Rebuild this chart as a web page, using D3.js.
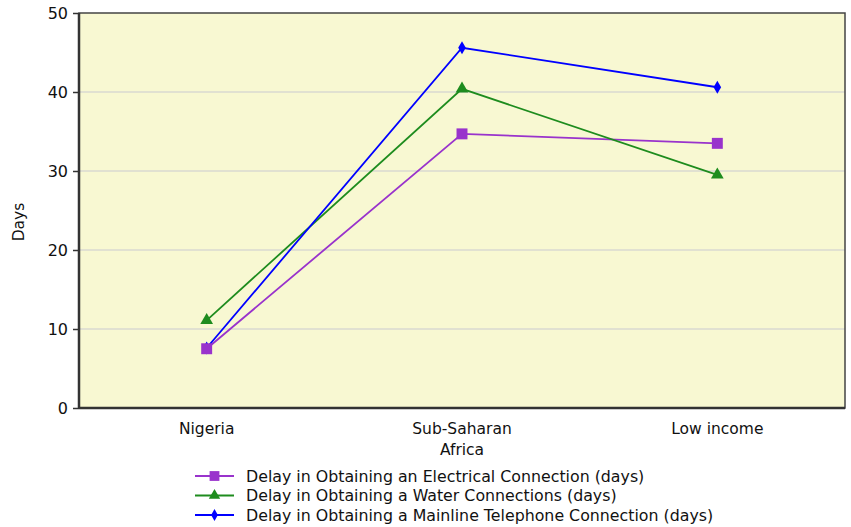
<!DOCTYPE html>
<html><head><meta charset="utf-8">
<script src="https://cdn.jsdelivr.net/npm/d3@7"></script>
<style>body{margin:0;background:#fff}svg{display:block}text{font-family:"DejaVu Sans",Tahoma,sans-serif;}</style>
</head><body><svg id="c" width="851" height="527"></svg>
<script>
const categories = [["Nigeria"], ["Sub-Saharan", "Africa"], ["Low income"]];
const categoryKeys = ["Nigeria", "Sub-Saharan Africa", "Low income"];
const seriesNames = [
  "Delay in Obtaining an Electrical Connection (days)",
  "Delay in Obtaining a Water Connections (days)",
  "Delay in Obtaining a Mainline Telephone Connection (days)"
];
const electrical = [7.5, 34.7, 33.5];
const water = [11.1, 40.4, 29.5];
const telephone = [7.6, 45.6, 40.6];
const yTicks = [0, 10, 20, 30, 40, 50];
const colors = ["#9933CC", "#1E8C1E", "#0000FF"];
const symbols = [d3.symbolSquare, d3.symbolTriangle, d3.symbolDiamond];
const seriesData = [electrical, water, telephone];

const svg = d3.select("#c");
const L = 79, R = 845, T = 13, B = 408;
const FS = 15.5;
const x = d3.scaleBand().domain(categoryKeys).range([L, R]);
const y = d3.scaleLinear().domain([0, 50]).range([B, T]);

svg.append("rect").attr("x", L).attr("y", T).attr("width", R - L).attr("height", B - T).attr("fill", "#F8F8D2");
svg.append("g").selectAll("line").data(yTicks.filter(t => t > 0 && t < 50)).join("line")
  .attr("x1", L).attr("x2", R).attr("y1", d => y(d)).attr("y2", d => y(d))
  .attr("stroke", "#DADAD0").attr("stroke-width", 1.5);
svg.append("rect").attr("x", L).attr("y", T).attr("width", R - L).attr("height", B - T)
  .attr("fill", "none").attr("stroke", "#444").attr("stroke-width", 1.5);
svg.append("line").attr("x1", L).attr("x2", L).attr("y1", T).attr("y2", B).attr("stroke", "#333").attr("stroke-width", 2.5);
svg.append("line").attr("x1", L).attr("x2", R).attr("y1", B).attr("y2", B).attr("stroke", "#333").attr("stroke-width", 2.5);

const yAxis = svg.append("g").attr("transform", `translate(${L},0)`)
  .call(d3.axisLeft(y).tickValues(yTicks).tickSize(6).tickPadding(5));
yAxis.select(".domain").remove();
yAxis.selectAll("line").attr("stroke", "#333").attr("stroke-width", 1.5);
yAxis.selectAll("text").attr("font-size", FS + 0.5).attr("fill", "#111");

svg.append("text").attr("transform", "translate(24,222) rotate(-90)").attr("text-anchor", "middle")
  .attr("font-size", FS).attr("fill", "#111").text("Days");

const xl = svg.append("g");
categoryKeys.forEach((k, i) => {
  const t = xl.append("text").attr("x", x(k) + x.bandwidth() / 2).attr("y", 434)
    .attr("text-anchor", "middle").attr("font-size", FS).attr("fill", "#111");
  categories[i].forEach((line, j) => t.append("tspan").attr("x", x(k) + x.bandwidth() / 2).attr("dy", j ? 21 : 0).text(line));
});

const line = d3.line().x((d, i) => x(categoryKeys[i]) + x.bandwidth() / 2).y(d => y(d));
const sizes = [120, 70, 50];
seriesData.forEach((s, si) => {
  svg.append("path").datum(s).attr("d", line).attr("fill", "none").attr("stroke", colors[si]).attr("stroke-width", 1.8);
});
[2, 1, 0].forEach(si => {
  svg.append("g").selectAll("path").data(seriesData[si]).join("path")
    .attr("transform", (d, i) => `translate(${x(categoryKeys[i]) + x.bandwidth() / 2},${y(d)})`)
    .attr("d", d3.symbol().type(symbols[si]).size(sizes[si])).attr("fill", colors[si]);
});

const lg = svg.append("g");
seriesNames.forEach((n, i) => {
  const yy = 476 + i * 19.5;
  lg.append("line").attr("x1", 195).attr("x2", 234).attr("y1", yy).attr("y2", yy).attr("stroke", colors[i]).attr("stroke-width", 1.8);
  lg.append("path").attr("transform", `translate(214.5,${yy})`).attr("d", d3.symbol().type(symbols[i]).size(sizes[i] * 0.8)).attr("fill", colors[i]);
  lg.append("text").attr("x", 246).attr("y", yy + 5.5).attr("font-size", 15.8).attr("fill", "#111").text(n);
});
</script></body></html>
